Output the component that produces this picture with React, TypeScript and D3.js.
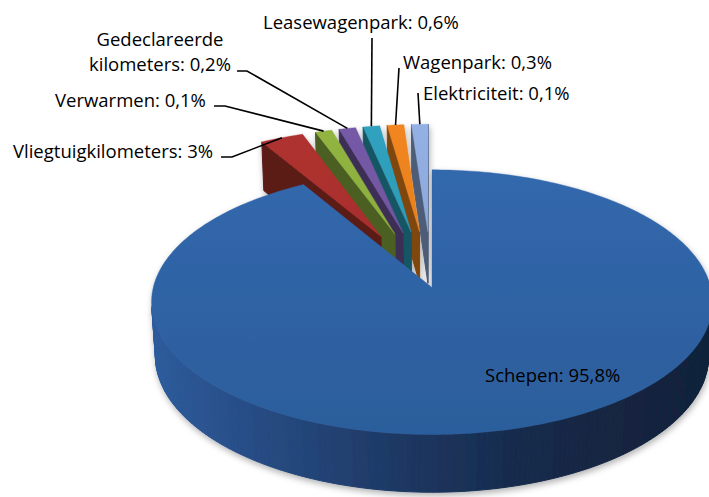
import * as d3 from 'd3';

// slices, clockwise from 12 o'clock
const categories = [
  'Schepen',
  'Vliegtuigkilometers',
  'Verwarmen',
  'Gedeclareerde kilometers',
  'Leasewagenpark',
  'Wagenpark',
  'Elektriciteit',
];
const shares = [95.8, 3, 0.1, 0.2, 0.6, 0.3, 0.1];
const topColors = ['#3066a9', '#a92f2e', '#8cad3e', '#7156a0', '#2e9bb7', '#e8801f', '#8eaadb'];

const W = 709;
const H = 497;
const CX = 432;
const CY = 341;
const FOCAL = 2200;
const DIST = 8;
const TILT_SIN = 0.49;
const TILT_COS = Math.sqrt(1 - TILT_SIN * TILT_SIN);
const THICK = 0.22; // pie height, in radii
const MIN_ANGLE = (4 * Math.PI) / 180; // keep slivers visible
const explodeOf = (i: number) => (i === 0 ? 0 : 0.45);

// label placement (text origin + start of leader line)
const labelLayout: { x: number; y: number; anchor?: string; wrap?: boolean; leader?: [number, number][] }[] = [
  { x: 485, y: 382 },
  { x: 13, y: 158, leader: [[221, 157], [232, 157]] },
  { x: 55, y: 107, leader: [[214, 106], [225, 106]] },
  { x: 160, y: 46, anchor: 'middle', wrap: true, leader: [[237, 71], [247, 71]] },
  { x: 263, y: 29, leader: [[372, 38]] },
  { x: 403, y: 69, leader: [[399, 68]] },
  { x: 423, y: 100, leader: [[418, 93]] },
];

const fmt = (v: number) => `${String(v).replace('.', ',')}%`;

type P = { x: number; y: number; dep: number };

function project(X: number, Z: number, h: number): P {
  const up = h * TILT_COS - Z * TILT_SIN;
  const dep = DIST - Z * TILT_COS - h * TILT_SIN;
  return { x: CX + (FOCAL * X) / dep, y: CY - (FOCAL * up) / dep, dep };
}

function signedArea(pts: P[]) {
  let s = 0;
  for (let i = 0; i < pts.length; i++) {
    const p = pts[i];
    const q = pts[(i + 1) % pts.length];
    s += p.x * q.y - q.x * p.y;
  }
  return s / 2;
}

const toPath = (pts: P[]) => 'M' + pts.map((p) => `${p.x.toFixed(2)},${p.y.toFixed(2)}`).join('L') + 'Z';

export default function App() {
  const raw = d3.pie<number>().sort(null).value((d) => d)(shares);
  const spans = raw.map((a) => a.endAngle - a.startAngle);
  const small = spans.map((s) => s < MIN_ANGLE);
  const fixed = small.reduce((acc, s) => acc + (s ? MIN_ANGLE : 0), 0);
  const rest = spans.reduce((acc, s, i) => acc + (small[i] ? 0 : s), 0);
  const k = (2 * Math.PI - fixed) / rest;
  let cursor = 0;
  const slices = spans.map((s, i) => {
    const span = small[i] ? MIN_ANGLE : s * k;
    const start = cursor;
    cursor += span;
    const mid = start + span / 2;
    const e = explodeOf(i);
    return { i, start, end: cursor, mid, ox: e * Math.sin(mid), oz: -e * Math.cos(mid) };
  });

  const blueSide = d3.interpolateRgbBasis(['#2d5a9a', '#213f70', '#152846', '#11213a']);

  const walls: { d: string; fill: string; dep: number }[] = [];
  const tops: { d: string; fill: string; dep: number; i: number }[] = [];

  slices.forEach((s) => {
    const rim = (a: number, h: number) => project(s.ox + Math.sin(a), s.oz - Math.cos(a), h);
    const n = Math.max(2, Math.ceil(((s.end - s.start) * 180) / Math.PI));
    const angles = d3.range(n + 1).map((j) => s.start + ((s.end - s.start) * j) / n);
    const base = d3.color(topColors[s.i])!;
    const dark = base.darker(1.7).formatHex();

    // outer wall, split into facets
    for (let j = 0; j < n; j++) {
      const q = [rim(angles[j], THICK), rim(angles[j + 1], THICK), rim(angles[j + 1], 0), rim(angles[j], 0)];
      if (signedArea(q) >= 0) continue;
      const cxq = (q[0].x + q[1].x) / 2;
      const fill = s.i === 0 ? blueSide((cxq - 160) / 550) : base.darker(1.2).formatHex();
      walls.push({ d: toPath(q), fill, dep: d3.mean(q, (p) => p.dep)! });
    }

    // radial cut faces
    const oTop = project(s.ox, s.oz, THICK);
    const oBot = project(s.ox, s.oz, 0);
    const startFace = [oTop, rim(s.start, THICK), rim(s.start, 0), oBot];
    const endFace = [rim(s.end, THICK), oTop, oBot, rim(s.end, 0)];
    [startFace, endFace].forEach((f) => {
      if (signedArea(f) >= 0) return;
      walls.push({ d: toPath(f), fill: s.i === 0 ? '#1d3961' : dark, dep: d3.mean(f, (p) => p.dep)! });
    });

    const topPts = [oTop, ...angles.map((a) => rim(a, THICK))];
    tops.push({ d: toPath(topPts), fill: `url(#top${s.i})`, dep: d3.mean(topPts, (p) => p.dep)!, i: s.i });
  });

  walls.sort((a, b) => b.dep - a.dep);
  tops.sort((a, b) => b.dep - a.dep);

  const anchors = slices.map((s) => project(s.ox + Math.sin(s.mid), s.oz - Math.cos(s.mid), THICK));

  return (
    <svg
      width={W}
      height={H}
      viewBox={`0 0 ${W} ${H}`}
      style={{ position: 'absolute', left: 0, top: 0, background: '#fff' }}
      fontFamily="'Open Sans', 'Noto Sans', sans-serif"
    >
      <defs>
        <filter id="shadow" x="-10%" y="-10%" width="120%" height="130%">
          <feDropShadow dx="1" dy="3" stdDeviation="3" floodColor="#000" floodOpacity="0.3" />
        </filter>
        {topColors.map((c, i) => (
          <linearGradient key={i} id={`top${i}`} gradientUnits="userSpaceOnUse" x1="0" y1="120" x2="0" y2="440">
            <stop offset="0" stopColor={d3.color(c)!.brighter(0.12).formatHex()} />
            <stop offset="1" stopColor={d3.color(c)!.darker(0.25).formatHex()} />
          </linearGradient>
        ))}
      </defs>

      <g filter="url(#shadow)">
        {walls.map((w, i) => (
          <path key={`w${i}`} d={w.d} fill={w.fill} stroke={w.fill} strokeWidth={1} strokeLinejoin="round" />
        ))}
        {tops.map((t) => (
          <path key={`t${t.i}`} d={t.d} fill={t.fill} stroke={topColors[t.i]} strokeWidth={0.4} strokeLinejoin="round" />
        ))}
      </g>

      <g fill="none" stroke="#000" strokeWidth={1.6}>
        {labelLayout.map((l, i) =>
          l.leader ? (
            <polyline
              key={i}
              points={[...l.leader, [anchors[i].x, anchors[i].y]].map((p) => p.join(',')).join(' ')}
            />
          ) : null
        )}
      </g>

      <g fontSize={18.5} fill="#000">
        {labelLayout.map((l, i) => {
          const text = `${categories[i]}: ${fmt(shares[i])}`;
          if (l.wrap) {
            const cut = text.indexOf(' ');
            return (
              <text key={i} x={l.x} y={l.y} textAnchor={l.anchor ?? 'start'}>
                <tspan x={l.x}>{text.slice(0, cut)}</tspan>
                <tspan x={l.x} dy={25}>
                  {text.slice(cut + 1)}
                </tspan>
              </text>
            );
          }
          return (
            <text key={i} x={l.x} y={l.y} textAnchor={l.anchor ?? 'start'}>
              {text}
            </text>
          );
        })}
      </g>
    </svg>
  );
}
